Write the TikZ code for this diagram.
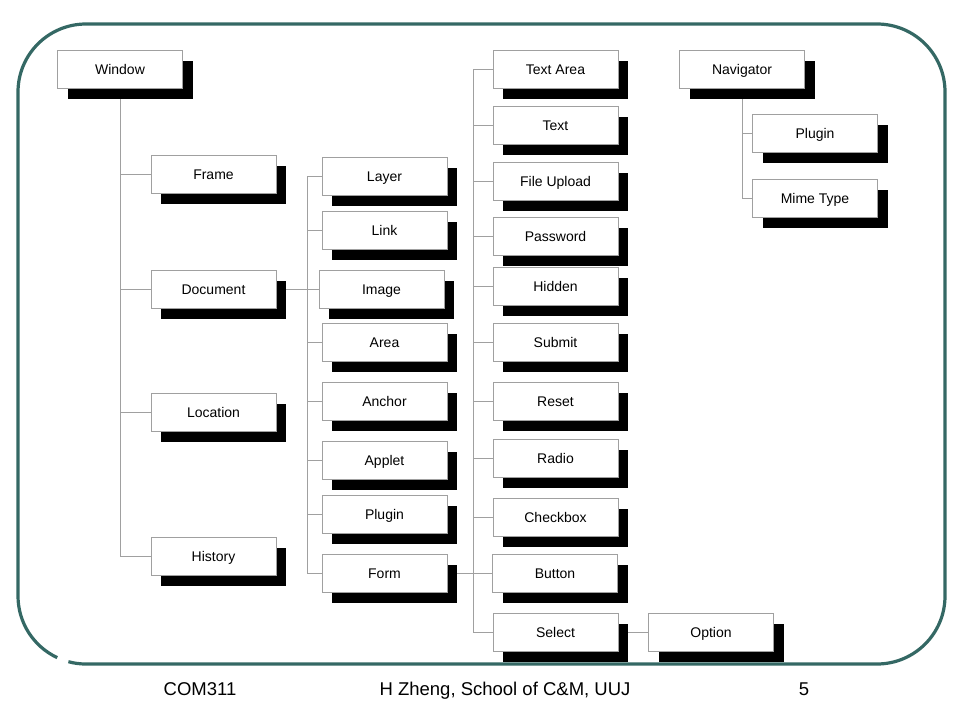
\documentclass[tikz,border=0pt]{standalone}
\usepackage{fontspec}
\setmainfont{Liberation Sans}
\usetikzlibrary{shadows,backgrounds}
\definecolor{frameteal}{RGB}{52,104,100}
\definecolor{boxgray}{RGB}{160,160,160}
\begin{document}
\begin{tikzpicture}[x=1pt,y=-1pt,
  wbox/.style={draw=boxgray, line width=0.8pt, fill=white,
    minimum width=125pt, minimum height=38pt, inner sep=0pt,
    text height=10pt, text depth=0pt,
    font=\fontsize{14}{16}\selectfont,
    drop shadow={shadow xshift=10pt, shadow yshift=-11pt, fill=black, opacity=1, draw=none}},
  conn/.style={draw=boxgray, line width=0.8pt},
  foot/.style={font=\fontsize{18.5}{21}\selectfont, inner sep=0pt, anchor=base}]
\useasboundingbox (0,0) rectangle (960,720);
% column 1 and 2
\node[wbox] (win) at (120,69) {Window};
\node[wbox] (frm) at (213.5,174) {Frame};
\node[wbox] (doc) at (213.5,289) {Document};
\node[wbox] (loc) at (213.5,412) {Location};
\node[wbox] (his) at (213.5,556) {History};
% column 3
\node[wbox] (lay) at (384.5,176) {Layer};
\node[wbox] (lnk) at (384.5,230) {Link};
\node[wbox] (img) at (381.5,289) {Image};
\node[wbox] (are) at (384.5,342) {Area};
\node[wbox] (anc) at (384.5,401) {Anchor};
\node[wbox] (apl) at (384.5,460) {Applet};
\node[wbox] (plg) at (384.5,514) {Plugin};
\node[wbox] (form) at (384.5,573) {Form};
% column 4
\node[wbox] (ta) at (555.5,69) {Text Area};
\node[wbox] (txt) at (555.5,125) {Text};
\node[wbox] (fu) at (555.5,181) {File Upload};
\node[wbox] (pw) at (555.5,236) {Password};
\node[wbox] (hid) at (555.5,286) {Hidden};
\node[wbox] (sub) at (555.5,342) {Submit};
\node[wbox] (rst) at (555.5,401) {Reset};
\node[wbox] (rad) at (555.5,458) {Radio};
\node[wbox] (chk) at (555.5,517) {Checkbox};
\node[wbox] (btn) at (555,573) {Button};
\node[wbox] (sel) at (555.5,632) {Select};
% right side
\node[wbox] (opt) at (711,632) {Option};
\node[wbox] (nav) at (742,69) {Navigator};
\node[wbox] (nplg) at (815,133) {Plugin};
\node[wbox] (mime) at (815,198) {Mime Type};
% footer
\node[foot] (f1) at (200,695) {COM311};
\node[foot] (f2) at (505,695) {H Zheng, School of C\&M, UUJ};
\node[foot] (f3) at (804,695) {5};
\coordinate (b3) at (307,289);
\coordinate (b4) at (473,573);
\begin{pgfonlayer}{background}
  % frame
  \draw[frameteal, line width=3.2pt]
    (68.4,661.7) arc[start angle=105, end angle=90, radius=68]
    -- (877,664) arc[start angle=90, end angle=0, radius=68]
    -- (945,92) arc[start angle=0, end angle=-90, radius=68]
    -- (86,24) arc[start angle=270, end angle=180, radius=68]
    -- (18,596) arc[start angle=180, end angle=115, radius=68];
  % connectors
  \foreach \c in {frm,doc,loc,his} \draw[conn] (win.south) |- (\c.west);
  \draw[conn] (doc.east) -- (img.west);
  \foreach \c in {lay,lnk,img,are,anc,apl,plg,form} \draw[conn] (b3 |- lay.west) |- (\c.west);
  \draw[conn] (form.east) -- (btn.west);
  \foreach \c in {ta,txt,fu,pw,hid,sub,rst,rad,chk,btn,sel} \draw[conn] (b4 |- ta.west) |- (\c.west);
  \draw[conn] (sel.east) -- (opt.west);
  \foreach \c in {nplg,mime} \draw[conn] (nav.south) |- (\c.west);
\end{pgfonlayer}
\end{tikzpicture}
\end{document}
